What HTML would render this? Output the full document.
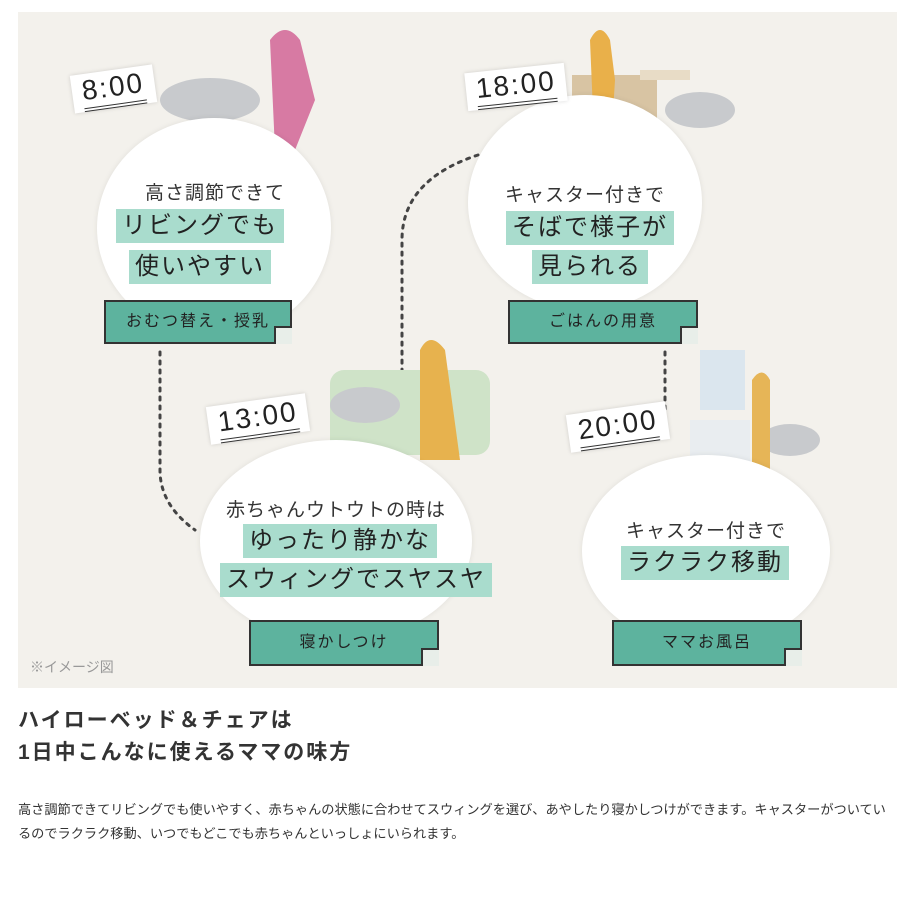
<!DOCTYPE html>
<html><head><meta charset="utf-8"><style>
body{margin:0;width:913px;height:913px;background:#fff;font-family:"Liberation Sans","Noto Sans CJK JP",sans-serif;color:#333;position:relative;overflow:hidden}
.a{position:absolute}
.panel{left:18px;top:12px;width:879px;height:676px;background:#f3f1ec}
.c{position:absolute;background:#fff;border-radius:50%;box-shadow:0 0 6px rgba(0,0,0,.08)}
.t{position:absolute;text-align:center;font-size:19px;color:#333;white-space:nowrap;letter-spacing:1px}
.hw{position:absolute;text-align:center;white-space:nowrap}
.h{display:inline-block;background:#a9dccd;font-size:24px;color:#222;letter-spacing:2px;line-height:34px;padding:0 6px}
.lab{position:absolute;background:#5db39e;border:2px solid #333;font-size:16px;color:#222;text-align:center;letter-spacing:2px}
.lab:after{content:"";position:absolute;right:-2px;bottom:-2px;width:16px;height:16px;background:#e8eee9;border-left:2px solid #333;border-top:2px solid #333}
.tm{position:absolute;background:#fff;font-size:28px;color:#222;letter-spacing:2px;padding:0 10px;box-shadow:0 0 4px rgba(0,0,0,.15)}
.tm span{display:block;border-bottom:4px double #333;line-height:34px}
</style></head><body>
<div class="a panel"></div>
<svg class="a" style="left:0;top:0" width="913" height="913">
<g fill="none" stroke="#444" stroke-width="3" stroke-dasharray="3 6" stroke-linecap="round">
<path d="M160 352 V470 Q160 505 195 530"/>
<path d="M478 155 Q402 180 402 240 V420"/>
<path d="M665 352 V435"/>
</g>
<rect x="330" y="370" width="160" height="85" rx="14" fill="#cfe3c8"/>
<rect x="572" y="75" width="85" height="90" fill="#d8c4a3"/>
<rect x="640" y="70" width="50" height="10" fill="#e8dcc6"/>
<rect x="700" y="350" width="45" height="60" fill="#dbe6ee"/>
<rect x="690" y="420" width="60" height="50" fill="#e9edf0"/>
<ellipse cx="210" cy="100" rx="50" ry="22" fill="#c8cacd"/>
<ellipse cx="700" cy="110" rx="35" ry="18" fill="#c8cacd"/>
<ellipse cx="365" cy="405" rx="35" ry="18" fill="#c8cacd"/>
<ellipse cx="790" cy="440" rx="30" ry="16" fill="#c8cacd"/>
<rect x="200" y="135" width="40" height="25" fill="#e9c46e"/>
<path d="M270 40 q15 -20 30 0 l15 60 l-20 50 h-20 z" fill="#d77aa3"/>
<path d="M590 40 q10 -20 20 0 l5 40 l-5 80 h-15 z" fill="#e9b04a"/>
<path d="M420 350 q10 -20 25 0 l15 110 h-40 z" fill="#e7b24e"/>
<path d="M752 380 q10 -15 18 0 l0 100 h-18 z" fill="#e6b557"/>
</svg>
<div class="c" style="left:97px;top:118px;width:234px;height:220px"></div>
<div class="c" style="left:468px;top:95px;width:234px;height:215px"></div>
<div class="c" style="left:200px;top:440px;width:272px;height:202px"></div>
<div class="c" style="left:582px;top:455px;width:248px;height:192px"></div>

<div class="tm" style="left:72px;top:70px;transform:rotate(-8deg)"><span>8:00</span></div>
<div class="tm" style="left:466px;top:68px;transform:rotate(-6deg)"><span>18:00</span></div>
<div class="tm" style="left:208px;top:400px;transform:rotate(-8deg)"><span>13:00</span></div>
<div class="tm" style="left:568px;top:408px;transform:rotate(-8deg)"><span>20:00</span></div>

<div class="t" style="left:100px;top:178px;width:230px">高さ調節できて</div>
<div class="hw" style="left:100px;top:209px;width:200px"><span class="h">リビングでも</span></div>
<div class="hw" style="left:100px;top:250px;width:200px"><span class="h">使いやすい</span></div>
<div class="lab" style="left:104px;top:300px;width:184px;height:40px;line-height:40px">おむつ替え・授乳</div>

<div class="t" style="left:470px;top:180px;width:230px">キャスター付きで</div>
<div class="hw" style="left:490px;top:211px;width:200px"><span class="h">そばで様子が</span></div>
<div class="hw" style="left:490px;top:250px;width:200px"><span class="h">見られる</span></div>
<div class="lab" style="left:508px;top:300px;width:186px;height:40px;line-height:40px">ごはんの用意</div>

<div class="t" style="left:200px;top:495px;width:272px">赤ちゃんウトウトの時は</div>
<div class="hw" style="left:220px;top:524px;width:240px"><span class="h">ゆったり静かな</span></div>
<div class="hw" style="left:220px;top:563px;width:240px"><span class="h">スウィングでスヤスヤ</span></div>
<div class="lab" style="left:249px;top:620px;width:186px;height:42px;line-height:42px">寝かしつけ</div>

<div class="t" style="left:582px;top:516px;width:248px">キャスター付きで</div>
<div class="hw" style="left:600px;top:546px;width:210px"><span class="h">ラクラク移動</span></div>
<div class="lab" style="left:612px;top:620px;width:186px;height:42px;line-height:42px">ママお風呂</div>

<div class="a" style="left:30px;top:657px;font-size:14px;color:#999">※イメージ図</div>
<div class="a" style="left:18px;top:705px;font-size:21px;font-weight:bold;line-height:32px;letter-spacing:2px;color:#333">ハイローベッド＆チェアは<br>1日中こんなに使えるママの味方</div>
<div class="a" style="left:18px;top:798px;width:880px;font-size:13.2px;line-height:24px;color:#333">高さ調節できてリビングでも使いやすく、赤ちゃんの状態に合わせてスウィングを選び、あやしたり寝かしつけができます。キャスターがついているのでラクラク移動、いつでもどこでも赤ちゃんといっしょにいられます。</div>
</body></html>
